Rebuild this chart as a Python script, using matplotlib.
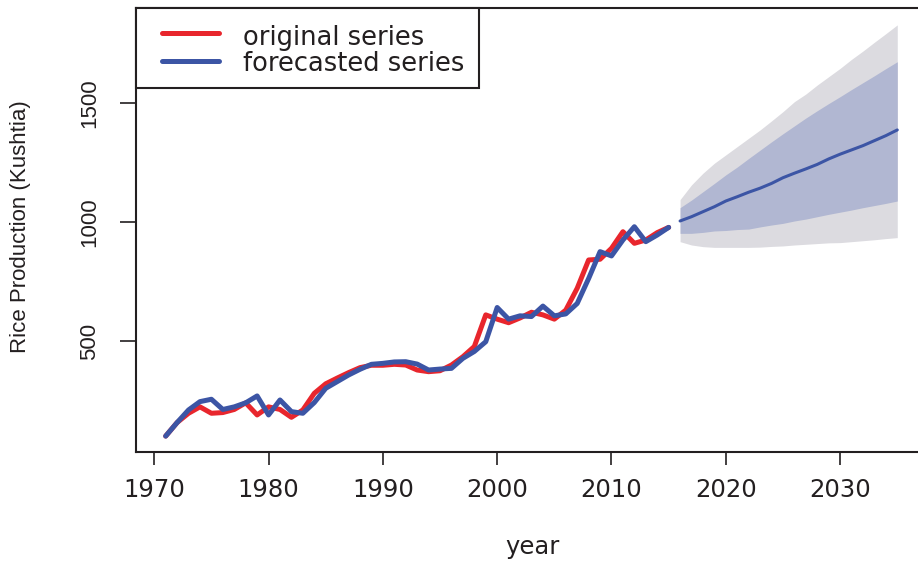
import matplotlib
matplotlib.use("Agg")
import matplotlib.pyplot as plt
from matplotlib.patches import Rectangle

# rice production, Kushtia district
years = list(range(1971, 2016))
original = [100, 157, 196, 223, 196, 199, 212, 240, 189, 223,
            212, 179, 210, 280, 320, 344, 367, 388, 398, 398,
            402, 399, 378, 371, 375, 399, 434, 477, 610, 592,
            577, 597, 621, 610, 592, 630, 722, 841, 844, 890,
            960, 911, 925, 956, 978]
fitted = [100, 157, 210, 245, 255, 212, 223, 240, 269, 189,
          252, 203, 196, 241, 301, 329, 357, 381, 402, 406,
          412, 413, 403, 378, 382, 385, 427, 456, 497, 641,
          592, 606, 603, 647, 606, 614, 658, 763, 876, 858,
          925, 981, 918, 946, 978]

# 20 year forecast with 80% and 95% intervals
fc_years = list(range(2016, 2036))
fc_mean = [1005, 1023, 1044, 1065, 1089, 1107, 1126, 1143, 1163, 1187,
           1206, 1224, 1243, 1266, 1286, 1304, 1322, 1343, 1364, 1388]
lo80 = [953, 953, 957, 963, 965, 969, 971, 980, 988, 995,
        1005, 1013, 1023, 1033, 1042, 1051, 1061, 1070, 1079, 1089]
hi80 = [1061, 1093, 1128, 1163, 1199, 1232, 1268, 1303, 1338, 1372,
        1405, 1438, 1469, 1499, 1528, 1558, 1587, 1616, 1646, 1675]
lo95 = [918, 904, 897, 894, 894, 894, 894, 895, 898, 900,
        904, 907, 910, 913, 914, 918, 922, 926, 931, 935]
hi95 = [1095, 1157, 1206, 1248, 1283, 1318, 1353, 1388, 1426, 1465,
        1507, 1539, 1577, 1612, 1647, 1685, 1720, 1757, 1793, 1830]

xticks = [1970, 1980, 1990, 2000, 2010, 2020, 2030]
yticks = [500, 1000, 1500]

red = "#E8262D"
blue = "#3C55A5"
ink = "#231F20"

fig = plt.figure(figsize=(9.18, 5.64), dpi=100)
ax = fig.add_axes([0.1481, 0.1977, 0.8617, 0.7881])

ax.fill_between(fc_years, lo95, hi95, color="#DCDBE0", lw=0)
ax.fill_between(fc_years, lo80, hi80, color="#B1B7D2", lw=0)
ax.plot(fc_years, fc_mean, color=blue, lw=2.2,
        solid_capstyle="round", solid_joinstyle="round")
ax.plot(years, original, color=red, lw=3.6,
        solid_capstyle="round", solid_joinstyle="round")
ax.plot(years, fitted, color=blue, lw=3.6,
        solid_capstyle="round", solid_joinstyle="round")

ax.set_xlim(1968.4, 2037.6)
ax.set_ylim(31, 1901)
ax.set_xticks(xticks)
ax.set_yticks(yticks)
ax.set_xticklabels([str(v) for v in xticks], fontsize=17.5, color=ink)
ax.set_yticklabels([str(v) for v in yticks], fontsize=16, color=ink,
                   family="Liberation Sans", rotation=90, va="center")
ax.tick_params(axis="x", length=9.4, width=1.2, color=ink, pad=9)
ax.tick_params(axis="y", length=11.5, width=1.2, color=ink, pad=14)
for s in ax.spines.values():
    s.set_linewidth(1.5)
    s.set_color(ink)

fig.text(533 / 918, 1 - 547 / 564, "year", fontsize=17.5, color=ink,
         ha="center", va="center")
fig.text(21 / 918, 1 - 227 / 564, "Rice Production (Kushtia)", fontsize=16,
         family="Liberation Sans", color=ink, rotation=90,
         ha="center", va="center")

# legend box in the top-left corner
ax.add_patch(Rectangle((0, 0.820), 0.4336, 0.180, transform=ax.transAxes,
                       facecolor="white", edgecolor=ink, lw=1.5,
                       zorder=5, clip_on=False))
for y_line, y_txt, col, name in [(0.9438, 0.9168, red, "original series"),
                                 (0.8808, 0.8583, blue, "forecasted series")]:
    ax.plot([0.0328, 0.1049], [y_line, y_line], transform=ax.transAxes,
            color=col, lw=3.6, solid_capstyle="round", zorder=6)
    ax.text(0.1357, y_txt, name, transform=ax.transAxes, fontsize=18.5,
            color=ink, va="baseline", ha="left", zorder=6)

fig.savefig("out.png", dpi=100)
